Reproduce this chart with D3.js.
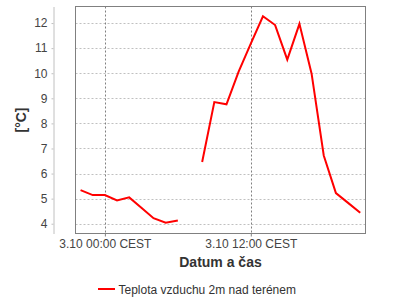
<!DOCTYPE html>
<html>
<head>
<meta charset="utf-8">
<script src="https://cdn.jsdelivr.net/npm/d3@7/dist/d3.min.js"></script>
<style>
  body { margin: 0; background: #fff; }
  svg { display: block; font-family: "Liberation Sans", Arial, sans-serif; }
</style>
</head>
<body>
<svg id="chart" width="400" height="300"></svg>
<script>
// hourly measurements, 2.10 22:00 .. 3.10 21:00 (wall clock, CEST)
var times = [
    "2000-10-02T22:00", "2000-10-02T23:00", "2000-10-03T00:00", "2000-10-03T01:00",
    "2000-10-03T02:00", "2000-10-03T03:00", "2000-10-03T04:00", "2000-10-03T05:00",
    "2000-10-03T06:00", "2000-10-03T07:00", "2000-10-03T08:00", "2000-10-03T09:00",
    "2000-10-03T10:00", "2000-10-03T11:00", "2000-10-03T12:00", "2000-10-03T13:00",
    "2000-10-03T14:00", "2000-10-03T15:00", "2000-10-03T16:00", "2000-10-03T17:00",
    "2000-10-03T18:00", "2000-10-03T19:00", "2000-10-03T20:00", "2000-10-03T21:00"
];
var temperature = [
    5.34, 5.14, 5.14, 4.93, 5.05, 4.64, 4.22, 4.04,
    4.13, null, 6.46, 8.85, 8.76, 10.06, 11.18, 12.27,
    11.92, 10.54, 11.97, 9.98, 6.72, 5.22, 4.83, 4.44
];
var xTicks = ["2000-10-03T00:00", "2000-10-03T12:00"];
var yTicks = [4, 5, 6, 7, 8, 9, 10, 11, 12];
var seriesName = "Teplota vzduchu 2m nad terénem";
var xTitle = "Datum a čas";
var yTitle = "[°C]";

var parse = d3.utcParse("%Y-%m-%dT%H:%M");
var data = times.map(function(t, i) { return { t: parse(t), v: temperature[i] }; });

var plot = { left: 75.5, top: 6.5, right: 365.5, bottom: 233.5 };

var x = d3.scaleUtc()
    .domain([parse("2000-10-02T21:35"), parse("2000-10-03T21:26")])
    .range([plot.left, plot.right]);

var y = d3.scaleLinear()
    .domain([3.61, 12.66])
    .range([plot.bottom, plot.top]);

var svg = d3.select("#chart");

// horizontal gridlines
svg.append("g").selectAll("line")
    .data(yTicks)
    .enter().append("line")
    .attr("x1", plot.left).attr("x2", plot.right)
    .attr("y1", function(d) { return Math.round(y(d)) + 0.5; })
    .attr("y2", function(d) { return Math.round(y(d)) + 0.5; })
    .attr("stroke", "#c0c0c0")
    .attr("stroke-dasharray", "2,2");

// vertical gridlines
svg.append("g").selectAll("line")
    .data(xTicks.map(parse))
    .enter().append("line")
    .attr("x1", function(d) { return Math.round(x(d)) + 0.5; })
    .attr("x2", function(d) { return Math.round(x(d)) + 0.5; })
    .attr("y1", plot.top).attr("y2", plot.bottom)
    .attr("stroke", "#808080")
    .attr("stroke-dasharray", "2,2");

// temperature line
var line = d3.line()
    .defined(function(d) { return d.v !== null; })
    .x(function(d) { return x(d.t); })
    .y(function(d) { return y(d.v); });

svg.append("path")
    .datum(data)
    .attr("d", line)
    .attr("fill", "none")
    .attr("stroke", "#ff0000")
    .attr("stroke-width", 2)
    .attr("stroke-linejoin", "miter");

// plot border
svg.append("rect")
    .attr("x", plot.left).attr("y", plot.top)
    .attr("width", plot.right - plot.left)
    .attr("height", plot.bottom - plot.top)
    .attr("fill", "none")
    .attr("stroke", "#808080");

// y axis, offset from plot
var yAxis = svg.append("g")
    .attr("transform", "translate(53.5,0)")
    .call(d3.axisLeft(y)
        .tickValues(yTicks)
        .tickSize(2)
        .tickSizeOuter(0)
        .tickPadding(4)
        .tickFormat(d3.format("d")));

yAxis.select(".domain").attr("stroke", "#c0c0c0");
yAxis.selectAll(".tick line").attr("stroke", "#c0c0c0");
yAxis.selectAll(".tick text")
    .attr("fill", "#444")
    .style("font-size", "12px");

// x axis
var xAxis = svg.append("g")
    .attr("transform", "translate(0," + plot.bottom + ")")
    .call(d3.axisBottom(x)
        .tickValues(xTicks.map(parse))
        .tickSize(3)
        .tickSizeOuter(0)
        .tickPadding(2.5)
        .tickFormat(d3.utcFormat("3.10 %H:%M CEST")));

xAxis.select(".domain").remove();
xAxis.selectAll(".tick line").attr("stroke", "#808080");
xAxis.selectAll(".tick text")
    .attr("fill", "#444")
    .style("font-size", "12px");

// axis titles
svg.append("text")
    .attr("x", (plot.left + plot.right) / 2)
    .attr("y", 267)
    .attr("text-anchor", "middle")
    .attr("fill", "#333")
    .style("font-size", "14px")
    .style("font-weight", "bold")
    .text(xTitle);

svg.append("text")
    .attr("transform", "translate(25.5," + ((plot.top + plot.bottom) / 2) + ") rotate(-90)")
    .attr("text-anchor", "middle")
    .attr("fill", "#333")
    .style("font-size", "14px")
    .style("font-weight", "bold")
    .text(yTitle);

// legend
var legend = svg.append("g");
legend.append("line")
    .attr("x1", 98).attr("x2", 115)
    .attr("y1", 289).attr("y2", 289)
    .attr("stroke", "#ff0000")
    .attr("stroke-width", 2);
legend.append("text")
    .attr("x", 118.5)
    .attr("y", 293.5)
    .attr("fill", "#333")
    .style("font-size", "12px")
    .text(seriesName);
</script>
</body>
</html>
